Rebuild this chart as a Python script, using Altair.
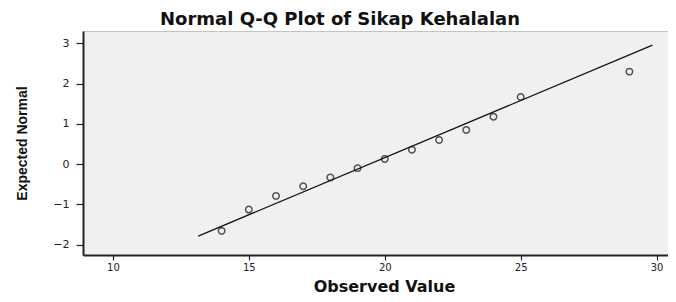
import altair as alt
import pandas as pd

observed = [14, 15, 16, 17, 18, 19, 20, 21, 22, 23, 24, 25, 29]
expected = [-1.66, -1.13, -0.79, -0.55, -0.33, -0.10, 0.13, 0.36, 0.60, 0.85, 1.18, 1.67, 2.30]

# Reference line endpoints
line_x = [13.14, 29.85]
line_y = [-1.79, 2.96]

x_ticks = [10, 15, 20, 25, 30]
y_ticks = [-2, -1, 0, 1, 2, 3]

chart_title = "Normal Q-Q Plot of Sikap Kehalalan"

pts = pd.DataFrame({"obs": observed, "exp": expected})
ln = pd.DataFrame({"obs": line_x, "exp": line_y})

xscale = alt.Scale(domain=[8.9, 30.42], nice=False, zero=False)
yscale = alt.Scale(domain=[-2.26, 3.31], nice=False, zero=False)

label_font = "DejaVu Sans"

xaxis = alt.Axis(
    title="Observed Value", values=x_ticks, grid=False,
    tickSize=5, tickColor="#222", tickWidth=1.2,
    domainColor="#222", domainWidth=2,
    labelFont=label_font, labelFontSize=10, labelColor="#222", labelPadding=2,
    titleFont="DejaVu Sans", titleFontSize=16, titleFontWeight="bold", titleColor="#111",
    titleX=301, titleY=39, titleAlign="center", titleBaseline="bottom",
)
yaxis = alt.Axis(
    title="Expected Normal", values=y_ticks, grid=False,
    tickSize=7, tickColor="#222", tickWidth=1.2,
    domainColor="#222", domainWidth=2,
    labelFont=label_font, labelFontSize=11, labelColor="#222", labelPadding=7,
    titleFont="Liberation Sans",
    titleFontSize=14, titleFontWeight="bold", titleColor="#111",
    titleX=-61, titleY=112, titleAlign="center", titleBaseline="middle", titleAngle=-90,
)

line = alt.Chart(ln).mark_line(color="#111", strokeWidth=1.3).encode(
    x=alt.X("obs:Q", scale=xscale, axis=xaxis),
    y=alt.Y("exp:Q", scale=yscale, axis=yaxis),
)

points = alt.Chart(pts).mark_point(
    shape="circle", filled=False, color="#111", size=42, strokeWidth=1.5
).encode(
    x=alt.X("obs:Q", scale=xscale),
    y=alt.Y("exp:Q", scale=yscale),
)

title_text = alt.Chart(pd.DataFrame({"t": [chart_title]})).mark_text(
    font="DejaVu Sans", fontSize=18, fontWeight="bold", color="#111",
    align="center", baseline="alphabetic",
).encode(
    x=alt.value(257), y=alt.value(-6), text="t:N",
)

chart = (
    alt.layer(line, points, title_text)
    .properties(
        width=585, height=224,
        autosize=alt.AutoSizeParams(type="none"),
        padding={"left": 75, "top": 23, "right": 0, "bottom": 39},
        background="white",
    )
    .configure_view(fill="#f0f0f0", stroke="#c4c4c4", strokeWidth=1)
)

chart.save("out.html", embed_options={"renderer": "svg", "actions": False})
